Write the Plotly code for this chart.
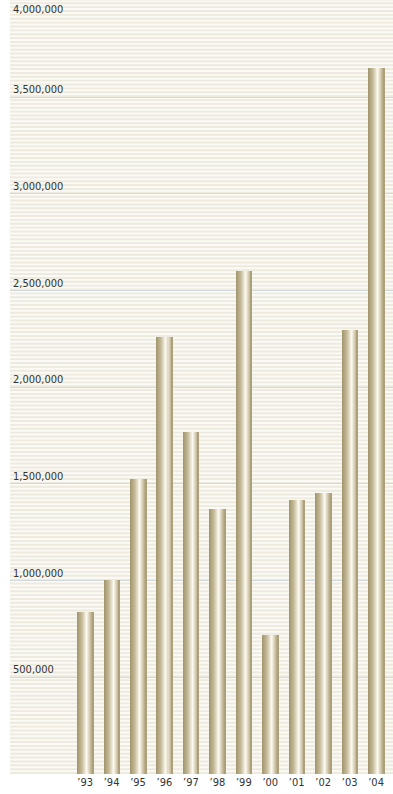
import plotly.graph_objects as go

# ---- data ----
years = ["’93", "’94", "’95", "’96", "’97", "’98", "’99", "’00", "’01", "’02", "’03", "’04"]
values = [840000, 1005000, 1525000, 2258000, 1767000, 1372000, 2603000, 720000, 1418000, 1452000, 2295000, 3650000]
y_ticks = [500000, 1000000, 1500000, 2000000, 2500000, 3000000, 3500000]
y_tick_text = ["500,000", "1,000,000", "1,500,000", "2,000,000", "2,500,000", "3,000,000", "3,500,000"]
top_tick = 4000000
top_tick_text = "4,000,000"

# ---- style ----
FONT = "'Liberation Sans Narrow', 'DejaVu Sans Condensed', 'Liberation Sans', sans-serif"
BAR_W = 0.61
N_SLICES = 16
stops = [(0.0, (160, 148, 108)), (0.3, (196, 186, 152)), (0.6, (252, 250, 242)),
         (0.78, (214, 205, 178)), (1.0, (165, 153, 113))]


def grad(t):
    for (p0, c0), (p1, c1) in zip(stops[:-1], stops[1:]):
        if p0 <= t <= p1:
            f = (t - p0) / (p1 - p0)
            c = [round(a + (b - a) * f) for a, b in zip(c0, c1)]
            return "rgb(%d,%d,%d)" % tuple(c)
    return "rgb(%d,%d,%d)" % stops[-1][1]


xs = list(range(len(years)))
fig = go.Figure()
sw = BAR_W / N_SLICES
for i in range(N_SLICES):
    t = (i + 0.5) / N_SLICES
    fig.add_trace(go.Bar(
        x=xs, y=values,
        width=BAR_W - i * sw,
        offset=-BAR_W / 2 + i * sw,
        marker=dict(color=grad(t), line=dict(width=0)),
        showlegend=False, hoverinfo="skip" if i else "y",
    ))

# background stripes
shapes = []
step = 20000
k = 0
while k * step < top_tick:
    shapes.append(dict(type="rect", xref="paper", yref="y", x0=0, x1=1,
                       y0=k * step + step * 0.5, y1=(k + 1) * step,
                       fillcolor="#fbfaf6", line=dict(width=0), layer="below"))
    k += 1

fig.update_layout(
    width=393, height=794,
    margin=dict(l=10, r=0, t=0, b=20),
    barmode="overlay", bargap=0,
    paper_bgcolor="white", plot_bgcolor="#edeade",
    shapes=shapes,
    font=dict(family=FONT, size=11, color="#333333"),
    xaxis=dict(range=[-2.84, 11.64], tickvals=xs, ticktext=years,
               showgrid=False, zeroline=False, showline=False, ticks="",
               tickfont=dict(family=FONT, size=11, color="#333333")),
    yaxis=dict(range=[0, 4002000], tickvals=y_ticks, ticktext=y_tick_text,
               ticklabelposition="inside top", showgrid=True,
               gridcolor="#d2d9db", gridwidth=1.2, zeroline=False, showline=False,
               ticks="", tickfont=dict(family=FONT, size=11, color="#333333")),
    annotations=[dict(x=0, xref="paper", y=1, yref="paper", xanchor="left", yanchor="top",
                      text=top_tick_text, showarrow=False, xshift=1, yshift=-1,
                      font=dict(family=FONT, size=11, color="#333333"))],
)

fig.write_html("out.html")
